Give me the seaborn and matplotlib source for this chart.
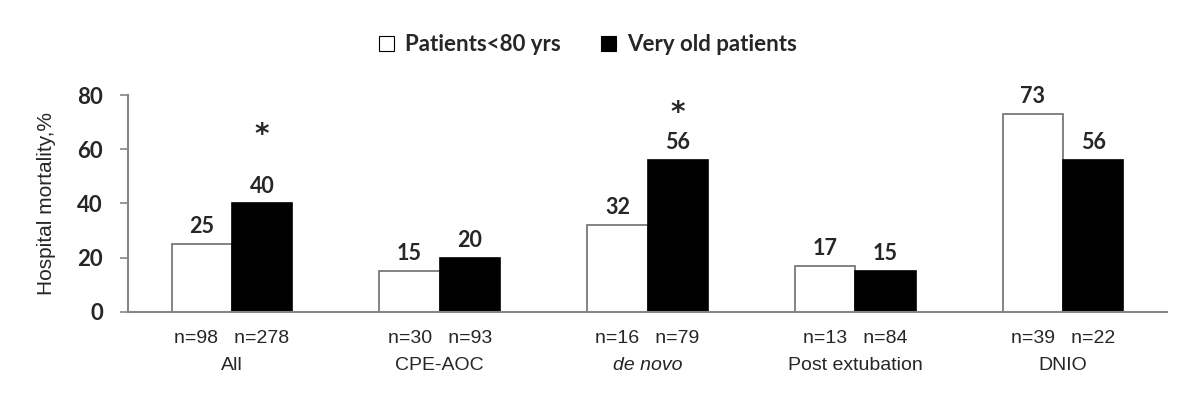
import pandas as pd
import matplotlib.pyplot as plt
import matplotlib.transforms as mtransforms
from matplotlib.ticker import FixedLocator
import seaborn as sns

groups = ["All", "CPE-AOC", "de novo", "Post extubation", "DNIO"]
young = [25, 15, 32, 17, 73]
old = [40, 20, 56, 15, 56]
n_young = [98, 30, 16, 13, 39]
n_old = [278, 93, 79, 84, 22]
stars = ["*", "", "*", "", ""]
star_offset = [49, 0, 34, 0, 0]  # points above the very old bar
series = ["Patients<80 yrs", "Very old patients"]

df = pd.DataFrame({
    "group": groups * 2,
    "mortality": young + old,
    "age": [series[0]] * len(groups) + [series[1]] * len(groups),
})

sns.set_style("white")
bold_font = ["Lato", "DejaVu Sans"]
reg_font = ["Liberation Sans", "DejaVu Sans"]
axis_gray = "#868686"

fig = plt.figure(figsize=(12, 4.09), dpi=100)
ax = fig.add_axes([0.1067, 0.2372, 0.8658, 0.5305])

sns.barplot(data=df, x="group", y="mortality", hue="age", order=groups,
            hue_order=series, palette={series[0]: "white", series[1]: "black"},
            width=0.58, gap=0, linewidth=1.2, saturation=1, ax=ax)

for cont, ec in zip(ax.containers, ["#6e6e6e", "black"]):
    for bar in cont:
        bar.set_edgecolor(ec)
    ax.bar_label(cont, fmt="%d", padding=5, fontsize=15.5, fontweight="bold",
                 family=bold_font)

# significance markers above the very old bars
for bar, s, off in zip(ax.containers[1], stars, star_offset):
    if s:
        ax.annotate(s, (bar.get_x() + bar.get_width() / 2, bar.get_height()),
                    xytext=(0, off), textcoords="offset points", ha="center",
                    va="center", fontsize=20, fontweight="bold",
                    family=["DejaVu Sans"])

ax.set_ylim(0, 80)
ax.set_xlim(-0.5, len(groups) - 0.5)
ax.set_yticks([0, 20, 40, 60, 80])
ax.set_yticklabels(["0", "20", "40", "60", "80"], fontsize=16, fontweight="bold",
                   family=bold_font)
ax.set_ylabel("Hospital mortality,%", fontsize=15, family=reg_font, labelpad=15)
ax.set_xlabel("")

ax.set_xticks(range(len(groups)))
ax.set_xticklabels([f"n={a}   n={b}" for a, b in zip(n_young, n_old)],
                   fontsize=14, family=reg_font)
ax.tick_params(axis="x", which="major", length=0, pad=13)
ax.xaxis.set_minor_locator(FixedLocator([i - 0.5 for i in range(len(groups) + 1)]))
ax.tick_params(axis="x", which="minor", length=7, color=axis_gray, width=1.2)
ax.tick_params(axis="y", length=6, color=axis_gray, width=1.2, left=True, pad=12)

trans = mtransforms.blended_transform_factory(ax.transData, ax.transAxes)
for i, g in enumerate(groups):
    ax.text(i, -0.245, g, transform=trans, ha="center", va="center",
            fontsize=14, family=reg_font,
            fontstyle="italic" if g == "de novo" else "normal")

sns.despine(ax=ax)
for side in ["left", "bottom"]:
    ax.spines[side].set_color(axis_gray)
    ax.spines[side].set_linewidth(1.5)

handles, labels = ax.get_legend_handles_labels()
ax.get_legend().remove()
for h in handles:
    h.set_edgecolor("black")
    h.set_linewidth(0.8)
fig.legend(handles, labels, loc="center", bbox_to_anchor=(0.49, 0.89), ncol=2,
           frameon=False, handlelength=0.7, handleheight=0.7, handletextpad=0.5,
           columnspacing=1.8, prop={"family": bold_font, "weight": "bold", "size": 16})

fig.savefig("out.png", dpi=100, facecolor="white")
